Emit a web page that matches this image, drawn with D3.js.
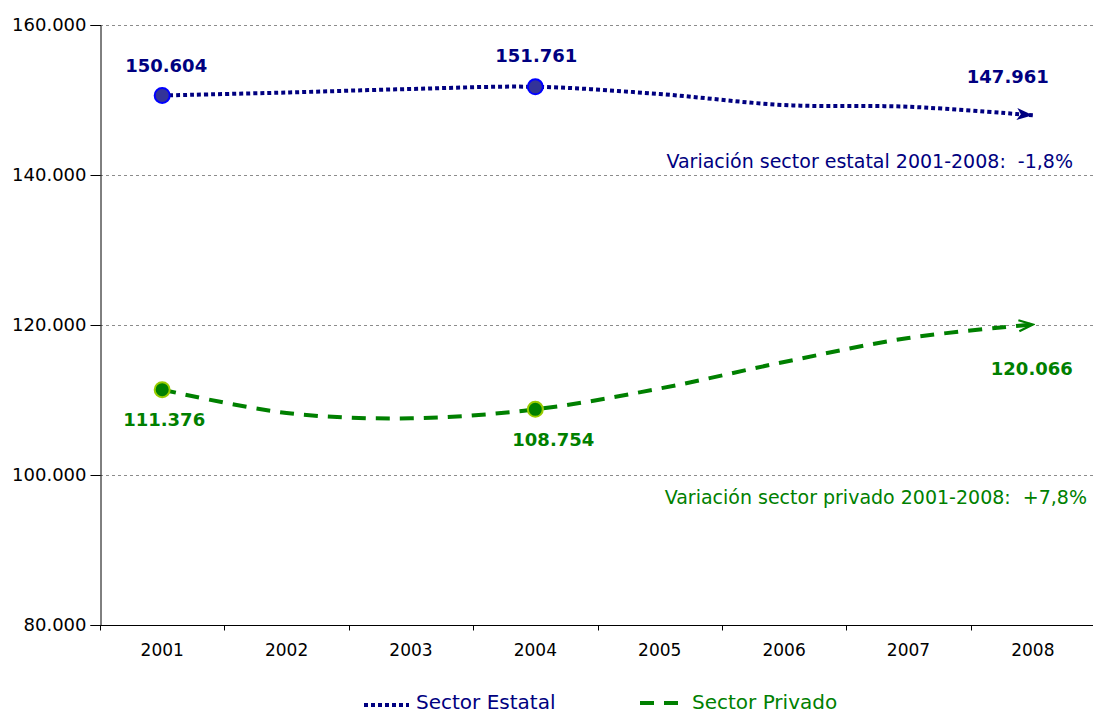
<!DOCTYPE html>
<html>
<head>
<meta charset="utf-8">
<script src="https://cdn.jsdelivr.net/npm/d3@7"></script>
<style>
  body { margin: 0; background: #fff; }
  text { font-family: "DejaVu Sans", Verdana, sans-serif; white-space: pre; }
</style>
</head>
<body>
<svg id="chart"></svg>
<script>
const years = ['2001', '2002', '2003', '2004', '2005', '2006', '2007', '2008'];
const estatal = [150.604, 151.0, 151.47, 151.761, 150.8, 149.33, 149.1, 147.961];
const privado = [111.376, 108.27, 107.56, 108.754, 111.53, 115.07, 118.27, 120.066];
const yTicks = [80, 100, 120, 140, 160];
const markerYears = ['2001', '2004'];
const labelYears = ['2001', '2004', '2008'];

const width = 1093, height = 714;
const margin = { left: 100, top: 25, right: -2, bottom: 89 };

const svg = d3.select('#chart')
  .attr('width', width)
  .attr('height', height);

const x = d3.scaleBand()
  .domain(years)
  .range([margin.left, width - margin.right]);

const y = d3.scaleLinear()
  .domain([80, 160])
  .range([height - margin.bottom, margin.top]);

const fmtTick = v => d3.format('.3f')(v);
const cx = yr => x(yr) + x.bandwidth() / 2;

// gridlines
svg.append('g')
  .selectAll('line')
  .data(yTicks.filter(t => t > 80))
  .join('line')
  .attr('x1', margin.left)
  .attr('x2', width)
  .attr('y1', d => Math.round(y(d)) + 0.5)
  .attr('y2', d => Math.round(y(d)) + 0.5)
  .style('stroke', '#8c8c8c')
  .style('stroke-dasharray', '3,3')
  .style('stroke-width', 1);

// y axis
const yAxis = svg.append('g')
  .attr('transform', `translate(${margin.left + 0.5},0)`)
  .call(d3.axisLeft(y).tickValues(yTicks).tickSize(10).tickPadding(4).tickFormat(fmtTick));
yAxis.select('.domain').style('stroke', '#000');
yAxis.selectAll('.tick line').style('stroke', '#000');
yAxis.selectAll('text')
  .style('font-size', '18px')
  .style('font-family', '"DejaVu Sans", Verdana, sans-serif')
  .style('fill', '#000');

// x axis
const xAxis = svg.append('g')
  .attr('transform', `translate(0,${Math.round(y(80)) + 0.5})`)
  .call(d3.axisBottom(x).tickSize(0).tickPadding(18));
xAxis.select('.domain').style('stroke', '#000').attr('d', `M${margin.left},0H${width}`);
xAxis.selectAll('text')
  .style('font-size', '17px')
  .style('font-family', '"DejaVu Sans", Verdana, sans-serif')
  .style('fill', '#000');
xAxis.selectAll('.band-tick')
  .data(d3.range(years.length + 1))
  .join('line')
  .attr('x1', i => Math.round(margin.left + i * x.step()) + 0.5)
  .attr('x2', i => Math.round(margin.left + i * x.step()) + 0.5)
  .attr('y1', 0)
  .attr('y2', 5)
  .style('stroke', '#000');

// arrow markers
const defs = svg.append('defs');
defs.append('marker')
  .attr('id', 'arrowNavy')
  .attr('markerUnits', 'userSpaceOnUse')
  .attr('viewBox', '0 -6 16 12')
  .attr('refX', 16).attr('refY', 0)
  .attr('markerWidth', 16).attr('markerHeight', 12)
  .attr('orient', 'auto')
  .append('path')
  .attr('d', 'M0,-6L16,0L0,6L4,0Z')
  .style('fill', '#000080');
defs.append('marker')
  .attr('id', 'arrowGreen')
  .attr('markerUnits', 'userSpaceOnUse')
  .attr('viewBox', '-2 -7 18 14')
  .attr('refX', 14).attr('refY', 0)
  .attr('markerWidth', 18).attr('markerHeight', 14)
  .attr('orient', 'auto')
  .append('path')
  .attr('d', 'M0,-5.5L14,0L0,5.5')
  .style('fill', 'none')
  .style('stroke', '#008000')
  .style('stroke-width', 2.2);

const line = d3.line()
  .x((d, i) => cx(years[i]))
  .y(d => y(d))
  .curve(d3.curveCatmullRom.alpha(0.5));

svg.append('path')
  .datum(estatal)
  .attr('d', line)
  .attr('marker-end', 'url(#arrowNavy)')
  .style('fill', 'none')
  .style('stroke', '#000080')
  .style('stroke-width', 4)
  .style('stroke-dasharray', '4,3');

svg.append('path')
  .datum(privado)
  .attr('d', line)
  .attr('marker-end', 'url(#arrowGreen)')
  .style('fill', 'none')
  .style('stroke', '#008000')
  .style('stroke-width', 4)
  .style('stroke-dasharray', '14,10');

// point markers
svg.append('g')
  .selectAll('circle')
  .data(markerYears)
  .join('circle')
  .attr('cx', d => cx(d))
  .attr('cy', d => y(estatal[years.indexOf(d)]))
  .attr('r', 7.5)
  .style('fill', '#333399')
  .style('stroke', '#0000ff')
  .style('stroke-width', 2);

svg.append('g')
  .selectAll('circle')
  .data(markerYears)
  .join('circle')
  .attr('cx', d => cx(d))
  .attr('cy', d => y(privado[years.indexOf(d)]))
  .attr('r', 7.5)
  .style('fill', '#008000')
  .style('stroke', '#99cc00')
  .style('stroke-width', 2);

// data labels
const estOffset = { '2001': [4, -23], '2004': [1, -25], '2008': [-25, -32] };
const priOffset = { '2001': [2, 36], '2004': [18, 37], '2008': [-1, 50] };

svg.append('g')
  .selectAll('text')
  .data(labelYears)
  .join('text')
  .attr('x', d => cx(d) + estOffset[d][0])
  .attr('y', d => y(estatal[years.indexOf(d)]) + estOffset[d][1])
  .attr('text-anchor', 'middle')
  .style('font-size', '18px')
  .style('font-weight', 'bold')
  .style('fill', '#000080')
  .text(d => fmtTick(estatal[years.indexOf(d)]));

svg.append('g')
  .selectAll('text')
  .data(labelYears)
  .join('text')
  .attr('x', d => cx(d) + priOffset[d][0])
  .attr('y', d => y(privado[years.indexOf(d)]) + priOffset[d][1])
  .attr('text-anchor', 'middle')
  .style('font-size', '18px')
  .style('font-weight', 'bold')
  .style('fill', '#008000')
  .text(d => fmtTick(privado[years.indexOf(d)]));

// variation notes
svg.append('text')
  .attr('x', 1073)
  .attr('y', y(140) - 7)
  .attr('text-anchor', 'end')
  .style('font-size', '19px')
  .style('fill', '#000080')
  .text('Variación sector estatal 2001-2008:  -1,8%');

svg.append('text')
  .attr('x', 1087)
  .attr('y', y(100) + 29)
  .attr('text-anchor', 'end')
  .style('font-size', '19px')
  .style('fill', '#008000')
  .text('Variación sector privado 2001-2008:  +7,8%');

// legend
const legend = svg.append('g');
legend.append('line')
  .attr('x1', 364).attr('x2', 409)
  .attr('y1', 705).attr('y2', 705)
  .style('stroke', '#000080')
  .style('stroke-width', 4)
  .style('stroke-dasharray', '4,3');
legend.append('text')
  .attr('x', 416).attr('y', 709)
  .style('font-size', '20px')
  .style('fill', '#000080')
  .text('Sector Estatal');
legend.append('line')
  .attr('x1', 640).attr('x2', 680)
  .attr('y1', 703).attr('y2', 703)
  .style('stroke', '#008000')
  .style('stroke-width', 4)
  .style('stroke-dasharray', '14,10');
legend.append('text')
  .attr('x', 692).attr('y', 709)
  .style('font-size', '20px')
  .style('fill', '#008000')
  .text('Sector Privado');
</script>
</body>
</html>
